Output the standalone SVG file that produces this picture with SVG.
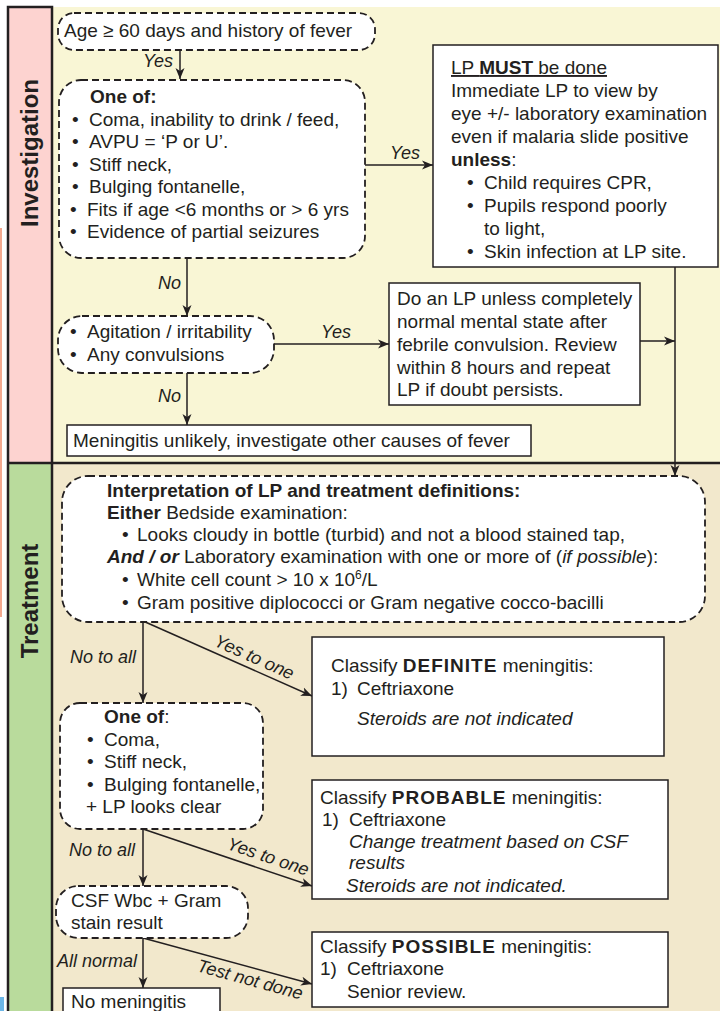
<svg xmlns="http://www.w3.org/2000/svg" width="720" height="1011" viewBox="0 0 720 1011">
<defs>
<marker id="ah" markerUnits="userSpaceOnUse" markerWidth="12" markerHeight="10" refX="11" refY="5" orient="auto">
<path d="M0,0.5 L11,5 L0,9.5 L3,5 Z" fill="#231f20"/>
</marker>
<style>
text{font-family:"Liberation Sans",Arial,Helvetica,sans-serif;font-size:19px;fill:#231f20}
.b{font-weight:bold}
.i{font-style:italic}
.lbl{font-size:18px;font-style:italic}
.band{font-size:24px;font-weight:bold}
.dash{fill:#fff;stroke:#231f20;stroke-width:1.8;stroke-dasharray:7 4}
.box{fill:#fff;stroke:#231f20;stroke-width:1.5}
.con{fill:none;stroke:#231f20;stroke-width:1.5;marker-end:url(#ah)}
.ls{letter-spacing:1px;font-weight:bold}
</style>
</defs>
<rect x="0" y="0" width="720" height="1011" fill="#fff"/>
<g id="background">
<rect x="52" y="7" width="668" height="456" fill="#f9f6d5"/>
<rect x="52" y="463" width="668" height="548" fill="#f2e8cc"/>
<rect x="8" y="7" width="44" height="456" fill="#fdd3d0"/>
<rect x="8" y="463" width="44" height="548" fill="#b9db9c"/>
<rect x="0" y="228" width="2" height="389" fill="#f3a88e"/>
<rect x="0" y="997" width="4" height="14" fill="#6cb6e6"/>
<path d="M8,1011 V7 H52 V1011" fill="none" stroke="#231f20" stroke-width="2.5"/>
<line x1="8" y1="463" x2="720" y2="463" stroke="#231f20" stroke-width="2.5"/>
<text class="band" transform="translate(38,153) rotate(-90)" text-anchor="middle">Investigation</text>
<text class="band" transform="translate(38,601) rotate(-90)" text-anchor="middle">Treatment</text>
</g>
<g id="connectors">
<line class="con" x1="180" y1="50" x2="180" y2="79"/>
<line class="con" x1="365" y1="165" x2="433" y2="165"/>
<line class="con" x1="187" y1="258" x2="187" y2="316"/>
<line class="con" x1="274" y1="344" x2="389" y2="344"/>
<line class="con" x1="640" y1="341" x2="675" y2="341"/>
<line class="con" x1="675" y1="267" x2="675" y2="476"/>
<line class="con" x1="187" y1="373" x2="187" y2="425"/>
<line class="con" x1="143" y1="621" x2="143" y2="703"/>
<line class="con" x1="143" y1="621" x2="312" y2="696"/>
<line class="con" x1="143" y1="829" x2="143" y2="886"/>
<line class="con" x1="143" y1="829" x2="312" y2="886"/>
<line class="con" x1="143" y1="938" x2="143" y2="988"/>
<line class="con" x1="143" y1="938" x2="312" y2="984"/>
<text class="lbl" x="143" y="67">Yes</text>
<text class="lbl" x="390" y="159">Yes</text>
<text class="lbl" x="158" y="289">No</text>
<text class="lbl" x="321" y="338">Yes</text>
<text class="lbl" x="158" y="402">No</text>
<text class="lbl" x="70" y="663">No to all</text>
<text class="lbl" transform="translate(249,669) rotate(24)" x="0" y="-7" text-anchor="middle">Yes to one</text>
<text class="lbl" x="69" y="856">No to all</text>
<text class="lbl" transform="translate(264,869) rotate(18.7)" x="0" y="-7" text-anchor="middle">Yes to one</text>
<text class="lbl" x="57" y="967">All normal</text>
<text class="lbl" transform="translate(253,969) rotate(15.3)" x="0" y="17" text-anchor="middle">Test not done</text>
</g>
<g id="n-age">
<rect class="dash" x="58" y="13" width="317" height="37" rx="16"/>
<text x="64" y="37">Age ≥ 60 days and history of fever</text>
</g>
<g id="n-oneof1">
<rect class="dash" x="59" y="80" width="306" height="178" rx="22"/>
<text class="b" x="90" y="103">One of:</text>
<text x="72" y="125.5">•</text><text x="89" y="125.5">Coma, inability to drink / feed,</text>
<text x="72" y="148">•</text><text x="89" y="148">AVPU = ‘P or U’.</text>
<text x="72" y="170.5">•</text><text x="89" y="170.5">Stiff neck,</text>
<text x="72" y="193">•</text><text x="89" y="193">Bulging fontanelle,</text>
<text x="70" y="215.5">•</text><text x="87" y="215.5">Fits if age &lt;6 months or &gt; 6 yrs</text>
<text x="70" y="238">•</text><text x="87" y="238">Evidence of partial seizures</text>
</g>
<g id="n-lpmust">
<rect class="box" x="433" y="45" width="285" height="222"/>
<text x="451" y="74" text-decoration="underline">LP <tspan class="b">MUST</tspan> be done</text>
<text x="451" y="97">Immediate LP to view by</text>
<text x="451" y="120">eye +/- laboratory examination</text>
<text x="451" y="143">even if malaria slide positive</text>
<text x="451" y="166"><tspan class="b">unless</tspan>:</text>
<text x="467" y="189">•</text><text x="484" y="189">Child requires CPR,</text>
<text x="467" y="212">•</text><text x="484" y="212">Pupils respond poorly</text>
<text x="484" y="235">to light,</text>
<text x="467" y="258">•</text><text x="484" y="258">Skin infection at LP site.</text>
</g>
<g id="n-agitation">
<rect class="dash" x="58" y="316" width="216" height="57" rx="24"/>
<text x="70" y="338">•</text><text x="87" y="338">Agitation / irritability</text>
<text x="70" y="361">•</text><text x="87" y="361">Any convulsions</text>
</g>
<g id="n-doLP">
<rect class="box" x="389" y="283" width="251" height="122"/>
<text x="397" y="305">Do an LP unless completely</text>
<text x="397" y="328">normal mental state after</text>
<text x="397" y="351">febrile convulsion. Review</text>
<text x="397" y="374">within 8 hours and repeat</text>
<text x="397" y="396">LP if doubt persists.</text>
</g>
<g id="n-unlikely">
<rect class="box" x="67" y="425" width="464" height="31"/>
<text x="73" y="447">Meningitis unlikely, investigate other causes of fever</text>
</g>
<g id="n-interp">
<rect class="dash" x="62" y="476" width="643" height="146" rx="26"/>
<text class="b" x="107" y="497">Interpretation of LP and treatment definitions:</text>
<text x="107" y="519"><tspan class="b">Either</tspan> Bedside examination:</text>
<text x="122" y="541">•</text><text x="137" y="541">Looks cloudy in bottle (turbid) and not a blood stained tap,</text>
<text x="107" y="563"><tspan class="b i">And / or</tspan> Laboratory examination with one or more of (<tspan class="i">if possible</tspan>):</text>
<text x="122" y="586">•</text><text x="137" y="586">White cell count &gt; 10 x 10<tspan dy="-7" font-size="12">6</tspan><tspan dy="7">/L</tspan></text>
<text x="122" y="609">•</text><text x="137" y="609">Gram positive diplococci or Gram negative cocco-bacilli</text>
</g>
<g id="n-definite">
<rect class="box" x="312" y="637" width="352" height="119"/>
<text x="331" y="672">Classify <tspan class="ls">DEFINITE</tspan> meningitis:</text>
<text x="331" y="695">1)</text><text x="357" y="695">Ceftriaxone</text>
<text class="i" x="357" y="725">Steroids are not indicated</text>
</g>
<g id="n-oneof2">
<rect class="dash" x="60" y="703" width="203" height="126" rx="20"/>
<text x="104" y="723"><tspan class="b">One of</tspan>:</text>
<text x="87" y="746">•</text><text x="104" y="746">Coma,</text>
<text x="87" y="768">•</text><text x="104" y="768">Stiff neck,</text>
<text x="87" y="791">•</text><text x="104" y="791">Bulging fontanelle,</text>
<text x="86" y="813">+ LP looks clear</text>
</g>
<g id="n-probable">
<rect class="box" x="312" y="780" width="356" height="119"/>
<text x="320" y="804">Classify <tspan class="ls">PROBABLE</tspan> meningitis:</text>
<text x="322" y="826">1)</text><text x="349" y="826">Ceftriaxone</text>
<text class="i" x="349" y="848">Change treatment based on CSF</text>
<text class="i" x="349" y="869">results</text>
<text class="i" x="346" y="892">Steroids are not indicated.</text>
</g>
<g id="n-csf">
<rect class="dash" x="56" y="886" width="192" height="52" rx="22"/>
<text x="71" y="907">CSF Wbc + Gram</text>
<text x="71" y="929">stain result</text>
</g>
<g id="n-possible">
<rect class="box" x="312" y="932" width="356" height="75"/>
<text x="320" y="953">Classify <tspan class="ls">POSSIBLE</tspan> meningitis:</text>
<text x="320" y="975">1)</text><text x="347" y="975">Ceftriaxone</text>
<text x="347" y="998">Senior review.</text>
</g>
<g id="n-nomen">
<rect class="box" x="63" y="988" width="157" height="30"/>
<text x="71" y="1008">No meningitis</text>
</g>
</svg>
